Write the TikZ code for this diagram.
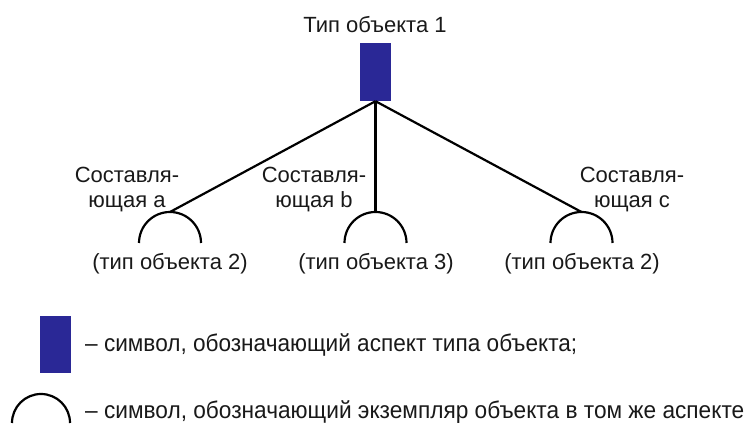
\documentclass[tikz,border=0pt]{standalone}
\usepackage{fontspec}
\usepackage{graphicx}
\setmainfont{Liberation Sans}
\definecolor{aspblue}{RGB}{42,40,150}
\tikzset{
  aspect/.style={rectangle, fill=aspblue, draw=none, inner sep=0pt, minimum width=31pt},
  conn/.style={line width=2.2pt, black},
  inst/.style={line width=2.2pt, black},
  lbl/.style={inner sep=0pt, font=\fontsize{22}{25}\selectfont, text=black!90},
  comp/.style={lbl, align=center},
  legtxt/.style={inner sep=0pt, font=\fontsize{24}{26}\selectfont, text=black!90, anchor=base west}
}
\begin{document}
\begin{tikzpicture}[x=1pt,y=1pt]
\useasboundingbox (0,0) rectangle (745,425);
% top aspect symbol
\node[aspect, minimum height=58pt] (t) at (375.5,353) {};
\node[lbl, anchor=base] (tt) at (375,392) {Тип объекта 1};
% instance symbols (tops of arcs)
\coordinate (ca) at (170,213);
\coordinate (cb) at (375.5,213);
\coordinate (cc) at (581.5,213);
\foreach \c in {ca,cb,cc}{
  \draw[inst] ([xshift=-31pt,yshift=-31pt]\c) arc[start angle=180,end angle=0,radius=31pt];
}
% connectors
\draw[conn] (t.south) -- (ca);
\draw[conn] (t.south) -- (cb);
\draw[conn] (t.south) -- (cc);
% component labels (base = baseline of last line)
\node[comp, anchor=base] (la) at (127,217) {Составля-\\ющая a};
\node[comp, anchor=base] (lb) at (314,217) {Составля-\\ющая b};
\node[comp, anchor=base] (lc) at (632,217) {Составля-\\ющая c};
% type labels
\node[lbl, anchor=base] (ta) at (170,155) {(тип объекта 2)};
\node[lbl, anchor=base] (tb) at (376,155) {(тип объекта 3)};
\node[lbl, anchor=base] (tc) at (582,155) {(тип объекта 2)};
% legend
\node[aspect, minimum height=57pt] (leg) at (55.5,80.5) {};
\coordinate (legarc) at (41,31);
\draw[inst] ([xshift=-29pt,yshift=-29pt]legarc) arc[start angle=180,end angle=0,radius=29pt];
\node[legtxt] (l1) at (85,73) {\resizebox{492pt}{\height}{– символ, обозначающий аспект типа объекта;}};
\node[legtxt] (l2) at (85,6) {\resizebox{659pt}{\height}{– символ, обозначающий экземпляр объекта в том же аспекте}};
\end{tikzpicture}
\end{document}
